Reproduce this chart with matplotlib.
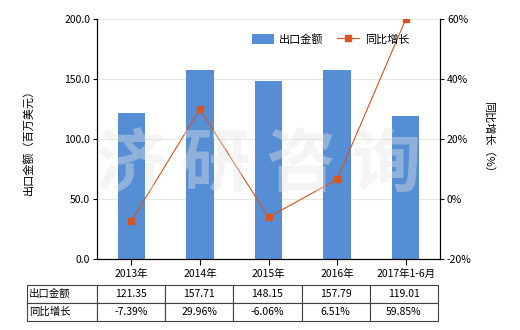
import numpy as np
import matplotlib
matplotlib.use("Agg")
import matplotlib.pyplot as plt

plt.rcParams['font.family'] = ['Noto Sans CJK SC', 'DejaVu Sans']

categories = ["2013年", "2014年", "2015年", "2016年", "2017年1-6月"]
export_value = [121.35, 157.71, 148.15, 157.79, 119.01]
growth = [-7.39, 29.96, -6.06, 6.51, 59.85]
value_labels = ["121.35", "157.71", "148.15", "157.79", "119.01"]
growth_labels = ["-7.39%", "29.96%", "-6.06%", "6.51%", "59.85%"]

bar_color = "#558ed5"
line_color = "#d9541e"
fs = 7.5

fig = plt.figure(figsize=(5.2, 3.3), dpi=100)
ax = fig.add_axes([97 / 520, 71 / 330, 343 / 520, 240 / 330])
x = np.arange(len(categories))

ax.bar(x, export_value, width=0.4, color=bar_color, zorder=2, label="出口金额")
ax.set_xlim(-0.5, len(categories) - 0.5)
ax.set_ylim(0, 200)
ax.set_yticks([0, 50, 100, 150, 200])
ax.set_yticklabels(["0.0", "50.0", "100.0", "150.0", "200.0"], fontsize=fs)
ax.set_xticks(x)
ax.set_xticklabels(categories, fontsize=fs)
ax.grid(axis="y", color="#e8e8dc", linewidth=0.8, zorder=0)
ax.spines["top"].set_visible(False)
ax.tick_params(axis="both", length=3, width=0.8, pad=2)
ax.tick_params(axis="x", length=4, pad=3)
ax.set_ylabel("出口金额（百万美元）", fontsize=fs + 0.5, labelpad=22)

ax2 = ax.twinx()
ax2.plot(x, growth, color=line_color, linewidth=0.8, marker="s", markersize=4,
         zorder=3, label="同比增长")
ax2.set_ylim(-20, 60)
ax2.set_yticks([-20, 0, 20, 40, 60])
ax2.set_yticklabels(["-20%", "0%", "20%", "40%", "60%"], fontsize=fs)
ax2.spines["top"].set_visible(False)
ax2.tick_params(axis="y", length=3, width=0.8, pad=2)
ax2.set_ylabel("同比增长（%）", fontsize=fs + 0.5, rotation=-90, labelpad=16)

# watermark
fig.text(0.497, 0.5, "济 研 咨 询", fontsize=50, color="#e4e4e4", alpha=0.4,
         ha="center", va="center", fontweight="bold", zorder=10)

h1, l1 = ax.get_legend_handles_labels()
h2, l2 = ax2.get_legend_handles_labels()
ax2.legend(h1 + h2, l1 + l2, loc="upper right", bbox_to_anchor=(0.94, 0.98),
           ncol=2, frameon=False, fontsize=fs + 0.5, handlelength=2.0,
           handleheight=1.0, columnspacing=1.2, handletextpad=0.5)

cell_text = [["出口金额"] + value_labels, ["同比增长"] + growth_labels]
col_w = [70 / 343] + [68.4 / 343] * 5
tbl = ax.table(cellText=cell_text, colWidths=col_w, cellLoc="center",
               bbox=[-70 / 343, -62 / 240, 411 / 343, 36 / 240])
tbl.auto_set_font_size(False)
tbl.set_fontsize(fs)
for (r, c), cell in tbl.get_celld().items():
    cell.set_edgecolor("#404040")
    cell.set_linewidth(0.8)
    if c == 0:
        cell.set_text_props(ha="left")
        cell.PAD = 0.03

fig.savefig("out.png", dpi=100)
